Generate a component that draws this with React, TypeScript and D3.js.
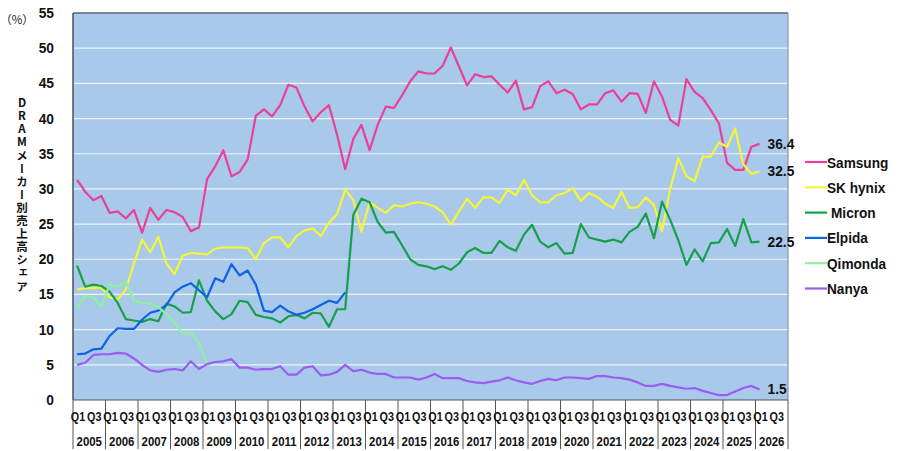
import React from 'react';
import * as d3 from 'd3';

const W = 900;
const H = 451;
const margin = { top: 13, right: 112, bottom: 51, left: 73 };

const years = ['2005', '2006', '2007', '2008', '2009', '2010', '2011', '2012', '2013', '2014', '2015',
  '2016', '2017', '2018', '2019', '2020', '2021', '2022', '2023', '2024', '2025', '2026'];
const quarters = ['Q1', 'Q2', 'Q3', 'Q4'];
const shownQuarters = ['Q1', 'Q3'];
const yTicks = [0, 5, 10, 15, 20, 25, 30, 35, 40, 45, 50, 55];

// share (%) per quarter, starting Q1 2005
const samsung = [31.3, 29.6, 28.4, 29.0, 26.6, 26.8, 25.8, 27.0, 23.8, 27.3,
  25.6, 27.0, 26.7, 26.0, 24.0, 24.5, 31.4, 33.2, 35.5, 31.8,
  32.4, 34.2, 40.4, 41.3, 40.3, 41.9, 44.8, 44.4, 41.7, 39.6,
  40.9, 41.9, 37.7, 32.8, 37.1, 39.1, 35.5, 39.1, 41.7, 41.5,
  43.3, 45.3, 46.7, 46.4, 46.4, 47.5, 50.1, 47.4, 44.7, 46.3,
  45.9, 46.0, 44.8, 43.7, 45.4, 41.3, 41.6, 44.6, 45.3, 43.6,
  44.1, 43.5, 41.3, 42.0, 42.0, 43.6, 44.0, 42.4, 43.6, 43.5,
  40.8, 45.3, 43.1, 39.8, 39.0, 45.6, 43.8, 42.9, 41.2, 39.3,
  33.7, 32.7, 32.7, 36.0, 36.4];
const skHynix = [15.7, 15.9, 15.9, 16.0, 14.6, 14.3, 15.7, 19.4, 22.8, 21.0,
  23.2, 19.4, 17.9, 20.5, 20.9, 20.8, 20.7, 21.5, 21.7, 21.7,
  21.7, 21.6, 20.0, 22.3, 23.1, 23.1, 21.7, 23.3, 24.1, 24.4,
  23.3, 25.2, 26.4, 29.9, 28.4, 23.9, 28.1, 27.3, 26.6, 27.7,
  27.5, 27.9, 28.1, 27.9, 27.5, 26.7, 24.9, 26.8, 28.6, 27.3,
  28.8, 28.8, 28.0, 29.9, 29.1, 31.3, 29.1, 28.1, 28.1, 29.1,
  29.4, 30.1, 28.3, 29.4, 28.9, 27.9, 27.3, 29.6, 27.3, 27.4,
  28.8, 27.7, 24.0, 30.0, 34.4, 31.8, 31.1, 34.6, 34.6, 36.6,
  36.0, 38.6, 33.5, 32.1, 32.5];
const micron = [19.1, 16.1, 16.4, 16.2, 15.4, 13.8, 11.5, 11.3, 11.1, 11.5,
  11.2, 13.7, 13.3, 12.4, 12.5, 17.0, 14.1, 12.6, 11.5, 12.2,
  14.1, 13.9, 12.1, 11.8, 11.6, 11.0, 11.9, 12.1, 11.6, 12.4,
  12.3, 10.4, 12.9, 12.9, 26.3, 28.6, 28.1, 25.3, 23.8, 23.9,
  22.0, 20.0, 19.2, 19.0, 18.6, 19.0, 18.5, 19.4, 21.0, 21.6,
  20.9, 20.9, 22.6, 21.7, 21.2, 23.5, 24.9, 22.5, 21.7, 22.3,
  20.8, 20.9, 25.0, 23.1, 22.8, 22.5, 22.8, 22.4, 23.9, 24.6,
  26.5, 23.0, 28.2, 25.6, 22.7, 19.2, 21.4, 19.7, 22.3, 22.4,
  24.3, 21.9, 25.7, 22.4, 22.5];
const elpida = [6.5, 6.6, 7.2, 7.3, 9.1, 10.2, 10.1, 10.1, 11.4, 12.4,
  12.7, 13.5, 15.3, 16.1, 16.6, 15.6, 14.6, 17.3, 16.8, 19.3,
  17.7, 18.4, 16.4, 12.7, 12.5, 13.4, 12.6, 12.1, 12.4, 12.9,
  13.5, 14.1, 13.8, 15.3];
const qimonda = [13.0, 14.8, 14.6, 13.3, 16.4, 16.1, 16.8, 14.1, 13.8, 13.7,
  13.2, 12.2, 11.0, 9.4, 9.6, 8.1, 5.3];
const nanya = [5.0, 5.3, 6.4, 6.5, 6.5, 6.7, 6.6, 5.9, 5.0, 4.2,
  4.0, 4.3, 4.4, 4.2, 5.5, 4.4, 5.1, 5.4, 5.5, 5.8,
  4.6, 4.6, 4.3, 4.4, 4.4, 4.8, 3.6, 3.6, 4.6, 4.8,
  3.5, 3.6, 4.0, 5.0, 4.1, 4.3, 3.9, 3.7, 3.7, 3.2,
  3.2, 3.2, 2.9, 3.2, 3.7, 3.1, 3.1, 3.1, 2.7, 2.5,
  2.4, 2.6, 2.8, 3.2, 2.8, 2.5, 2.3, 2.7, 3.0, 2.8,
  3.2, 3.2, 3.1, 3.0, 3.4, 3.4, 3.2, 3.1, 2.9, 2.5,
  2.0, 2.0, 2.3, 2.0, 1.8, 1.6, 1.7, 1.3, 1.0, 0.7,
  0.7, 1.2, 1.7, 2.0, 1.5];

const seriesNames = ['Samsung', 'SK hynix', ' Micron', 'Elpida', 'Qimonda', 'Nanya'];
const seriesValues = [samsung, skHynix, micron, elpida, qimonda, nanya];
const colors = ['#ec3f98', '#f5f53a', '#16a04c', '#0d62e6', '#8ff0a0', '#9a5cf5'];
const endLabels = ['36.4', '32.5', '22.5', null, null, '1.5'];

const yTitle = 'DRAMメーカー別売上高シェア';

const font = '"Liberation Sans", Arial, sans-serif';
const jpFont = '"Noto Sans CJK JP", sans-serif';

function Txt({ x, y, sx = 1, size, anchor = 'middle', children, fill = '#111' }: any) {
  return (
    <text
      transform={`translate(${x},${y}) scale(${sx},1)`}
      fontFamily={font}
      fontWeight="bold"
      fontSize={size}
      textAnchor={anchor}
      fill={fill}
    >
      {children}
    </text>
  );
}

export default function App() {
  const keys = years.flatMap(y => quarters.map(q => y + q));
  const x = d3.scaleBand().domain(keys).range([margin.left, W - margin.right]).padding(0);
  const y = d3.scaleLinear().domain([0, 55]).range([H - margin.bottom, margin.top]);
  const bw = x.bandwidth();
  const cx = (i: number) => (x(keys[i]) as number) + bw / 2;

  const line = d3
    .line<number>()
    .x((d, i) => cx(i))
    .y(d => y(d));

  const x0 = margin.left;
  const x1 = W - margin.right;
  const yBottom = y(0);
  const yTop = y(55);

  return (
    <svg width={W} height={H} style={{ position: 'absolute', left: 0, top: 0, background: '#fff' }}>
      <rect x={x0} y={yTop} width={x1 - x0} height={yBottom - yTop} fill="#a8c9ea" />
      {yTicks.filter(t => t > 0 && t < 55).map(t => (
        <line key={t} x1={x0} x2={x1} y1={y(t)} y2={y(t)} stroke="#eef4fb" strokeWidth={1.2} />
      ))}
      <line x1={x0} x2={x1} y1={yTop} y2={yTop} stroke="#5b6370" strokeWidth={1.5} />
      <line x1={x0} x2={x0} y1={yTop} y2={yBottom} stroke="#4a5260" strokeWidth={1.5} />
      <line x1={x1} x2={x1} y1={yTop} y2={yBottom} stroke="#8a97a8" strokeWidth={1.2} />
      <line x1={x0} x2={x1} y1={yBottom} y2={yBottom} stroke="#4a5260" strokeWidth={1} />

      {seriesValues.map((vals, k) => (
        <path key={k} d={line(vals) as string} fill="none" stroke={colors[k]} strokeWidth={2.2} strokeLinejoin="round" />
      ))}

      {yTicks.map(t => (
        <Txt key={t} x={54} y={y(t) + 5} size={14.5} anchor="end" sx={0.95}>{t}</Txt>
      ))}
      <text x={17} y={24} fontFamily={jpFont} fontSize={11.5} textAnchor="middle" fill="#222">（%）</text>

      <text
        x={22}
        y={97}
        fontFamily={jpFont}
        fontWeight="bold"
        fontSize={11.5}
        letterSpacing={1.6}
        fill="#111"
        style={{ writingMode: 'vertical-rl', textOrientation: 'upright' } as any}
      >
        {yTitle}
      </text>

      {years.map(yr => {
        const left = x(yr + 'Q1') as number;
        return (
          <g key={yr}>
            <line x1={left} x2={left} y1={yBottom} y2={449} stroke="#555" strokeWidth={1} />
            {shownQuarters.map(q => (
              <Txt key={q} x={(x(yr + q) as number) + bw / 2 + 1} y={421} size={13.5} sx={0.8}>{q}</Txt>
            ))}
            <Txt x={left + bw * 2} y={446} size={13} sx={0.88}>{yr}</Txt>
          </g>
        );
      })}
      <line x1={x1} x2={x1} y1={yBottom} y2={449} stroke="#555" strokeWidth={1} />

      {seriesValues.map((vals, k) => {
        const lbl = endLabels[k];
        if (!lbl) return null;
        const last = vals.length - 1;
        return (
          <Txt key={k} x={cx(last) + 8} y={y(vals[last]) + 5} size={14.5} anchor="start" sx={0.95}>{lbl}</Txt>
        );
      })}

      {seriesNames.map((n, k) => {
        const ly = 162 + k * 25.3;
        return (
          <g key={n}>
            <line x1={805} x2={827} y1={ly} y2={ly} stroke={colors[k]} strokeWidth={2.2} />
            <Txt x={n.startsWith(' ') ? 831 : 827} y={ly + 5.5} size={15.5} anchor="start" sx={0.88}>{n.trim()}</Txt>
          </g>
        );
      })}
    </svg>
  );
}
